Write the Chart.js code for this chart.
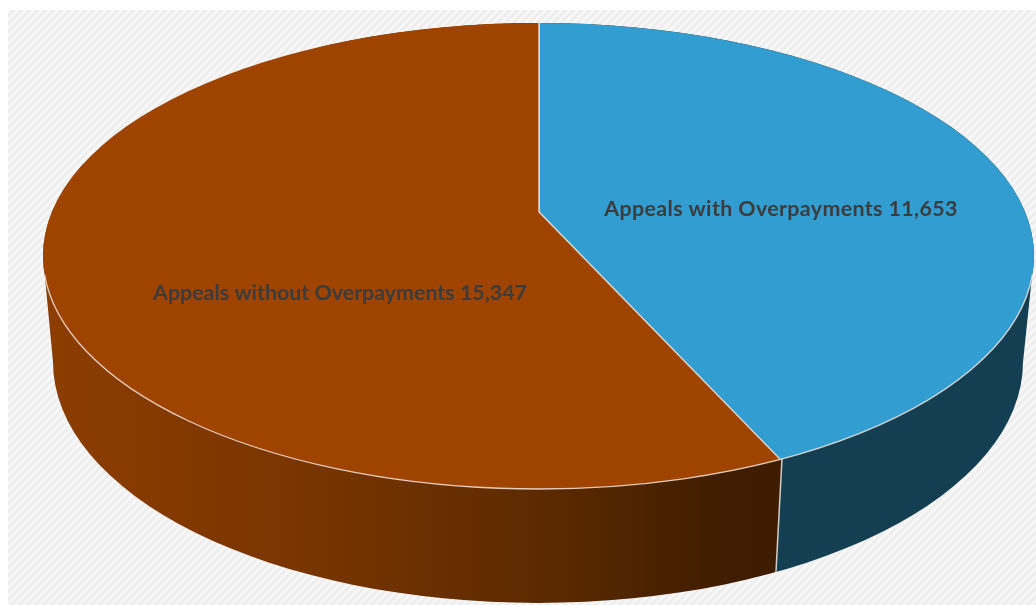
<!DOCTYPE html>
<html>
<head>
<meta charset="utf-8">
<style>html,body{margin:0;padding:0;background:#fff}canvas{display:block}</style>
<script src="https://cdn.jsdelivr.net/npm/chart.js@4"></script>
</head>
<body>
<canvas id="pie" width="1036" height="605"></canvas>
<script>
// Appeal counts
const categories = ['Appeals with Overpayments', 'Appeals without Overpayments'];
const appealCounts = [11653, 15347];
const topColors = ['#329dd0', '#9e4300'];
const wallColors = ['#143f53', '#8c3d00'];

// Geometry of the tilted disc
const TOP = { cx: 538.5, cy: 256, rx: 495.5, ry: 233 };
const BOTTOM = { cx: 538, cy: 362, rx: 485, ry: 241 };
const HUB = { x: 539, y: 212 };            // where the slices meet on the top face
const WALL_HUB = { x: 785.1, y: 400 };     // ray through the seam on the side wall
const SEAM_DIR = { x: -6 / 113, y: 1 };
const LABEL_POS = [{ x: 781, y: 209 }, { x: 340, y: 293 }];
const LABEL_TRACKING = ['0.37px', '0px'];

function ellipsePath(ctx, e) {
  ctx.moveTo(e.cx + e.rx, e.cy);
  ctx.ellipse(e.cx, e.cy, e.rx, e.ry, 0, 0, Math.PI * 2);
}

function hatch(ctx) {
  const tile = document.createElement('canvas');
  tile.width = tile.height = 8;
  const t = tile.getContext('2d');
  t.fillStyle = '#f8f8f8';
  t.fillRect(0, 0, 8, 8);
  t.strokeStyle = '#eeeeee';
  t.lineWidth = 3;
  t.beginPath();
  t.moveTo(-4, 4); t.lineTo(4, -4);
  t.moveTo(-4, 12); t.lineTo(12, -4);
  t.moveTo(4, 12); t.lineTo(12, 4);
  t.stroke();
  return ctx.createPattern(tile, 'repeat');
}

// Draws the side wall by re-using the pie's arc elements under a sheared transform,
// so the seam between the two slices follows the wall instead of the top face.
function drawWall(chart) {
  const ctx = chart.ctx;
  const arcs = chart.getDatasetMeta(0).data;
  const c = arcs[0].getProps(['x', 'y']);
  const total = appealCounts[0] + appealCounts[1];
  const theta = appealCounts[0] / total * Math.PI * 2;
  const s = 1.5;
  const q = { x: -s, y: s };
  const p = {
    x: (s * SEAM_DIR.x + Math.cos(theta) * q.x) / Math.sin(theta),
    y: (s * SEAM_DIR.y + Math.cos(theta) * q.y) / Math.sin(theta)
  };
  const g2 = p.x * p.x + q.x * q.x;
  const userAt = X => {
    const t = (X - WALL_HUB.x) / g2;
    return [c.x + t * p.x, c.y + t * q.x];
  };

  ctx.save();
  ctx.beginPath();
  ellipsePath(ctx, TOP);
  ellipsePath(ctx, BOTTOM);
  ctx.moveTo(TOP.cx - TOP.rx + 0.5, TOP.cy + 6);
  ctx.lineTo(TOP.cx + TOP.rx - 0.5, TOP.cy + 6);
  ctx.lineTo(BOTTOM.cx + BOTTOM.rx, BOTTOM.cy);
  ctx.lineTo(BOTTOM.cx - BOTTOM.rx, BOTTOM.cy);
  ctx.closePath();
  ctx.clip();
  ctx.transform(p.x, p.y, q.x, q.y,
    WALL_HUB.x - p.x * c.x - q.x * c.y,
    WALL_HUB.y - p.y * c.x - q.y * c.y);

  const a = userAt(50), b = userAt(780);
  const shade = ctx.createLinearGradient(a[0], a[1], b[0], b[1]);
  shade.addColorStop(0, wallColors[1]);
  shade.addColorStop(0.33, '#7a3500');
  shade.addColorStop(0.5, '#6c3000');
  shade.addColorStop(0.7, '#5a2900');
  shade.addColorStop(0.9, '#421e00');
  shade.addColorStop(1, '#3e1c00');

  arcs.forEach((arc, i) => {
    const ghost = Object.create(arc);
    ghost.options = Object.assign({}, arc.options, {
      backgroundColor: i === 1 ? shade : wallColors[0],
      borderColor: 'rgba(255,255,255,0)',
      borderWidth: 0
    });
    arc.draw.call(ghost, ctx);
  });
  // light seam between the slices, drawn with the first arc's outline only
  const ghost = Object.create(arcs[0]);
  ghost.options = Object.assign({}, arcs[0].options, {
    backgroundColor: 'rgba(0,0,0,0)',
    borderColor: 'rgba(235,225,215,0.85)',
    borderWidth: 0.45
  });
  arcs[0].draw.call(ghost, ctx);
  ctx.restore();
}

const discPlugin = {
  id: 'disc',
  beforeDraw(chart) {
    const ctx = chart.ctx;
    ctx.save();
    ctx.fillStyle = hatch(ctx);
    ctx.fillRect(8, 10, chart.width - 8, chart.height - 10);
    ctx.restore();
  },
  beforeDatasetDraw(chart) {
    drawWall(chart);
    const ctx = chart.ctx;
    const c = chart.getDatasetMeta(0).data[0].getProps(['x', 'y', 'outerRadius']);
    const sx = 700 / c.outerRadius;
    const sy = sx * TOP.ry / TOP.rx;
    ctx.save();
    ctx.beginPath();
    ellipsePath(ctx, TOP);
    ctx.clip();
    ctx.translate(HUB.x, HUB.y);
    ctx.scale(sx, sy);
    ctx.translate(-c.x, -c.y);
  },
  afterDatasetDraw(chart) {
    const ctx = chart.ctx;
    ctx.restore();
    // pale rim along the front edge of the top face
    ctx.save();
    ctx.beginPath();
    ctx.ellipse(TOP.cx, TOP.cy, TOP.rx, TOP.ry, 0, 0.08, Math.PI - 0.08);
    ctx.strokeStyle = 'rgba(245,232,222,0.85)';
    ctx.lineWidth = 1.3;
    ctx.stroke();
    ctx.restore();
  },
  afterDatasetsDraw(chart) {
    const ctx = chart.ctx;
    ctx.save();
    ctx.font = 'bold 21.4px Lato';
    ctx.fillStyle = '#3c3c3c';
    ctx.textAlign = 'center';
    ctx.textBaseline = 'middle';
    categories.forEach((name, i) => {
      ctx.letterSpacing = LABEL_TRACKING[i];
      ctx.fillText(name + ' ' + appealCounts[i].toLocaleString('en-US'), LABEL_POS[i].x, LABEL_POS[i].y);
    });
    ctx.restore();
  }
};

new Chart(document.getElementById('pie'), {
  type: 'pie',
  data: {
    labels: categories,
    datasets: [{
      data: appealCounts,
      backgroundColor: topColors,
      borderColor: 'rgba(238,228,218,0.8)',
      borderWidth: 0.7
    }]
  },
  options: {
    responsive: false,
    animation: false,
    layout: { padding: 0 },
    events: [],
    plugins: { legend: { display: false }, tooltip: { enabled: false } }
  },
  plugins: [discPlugin]
});
</script>
</body>
</html>
